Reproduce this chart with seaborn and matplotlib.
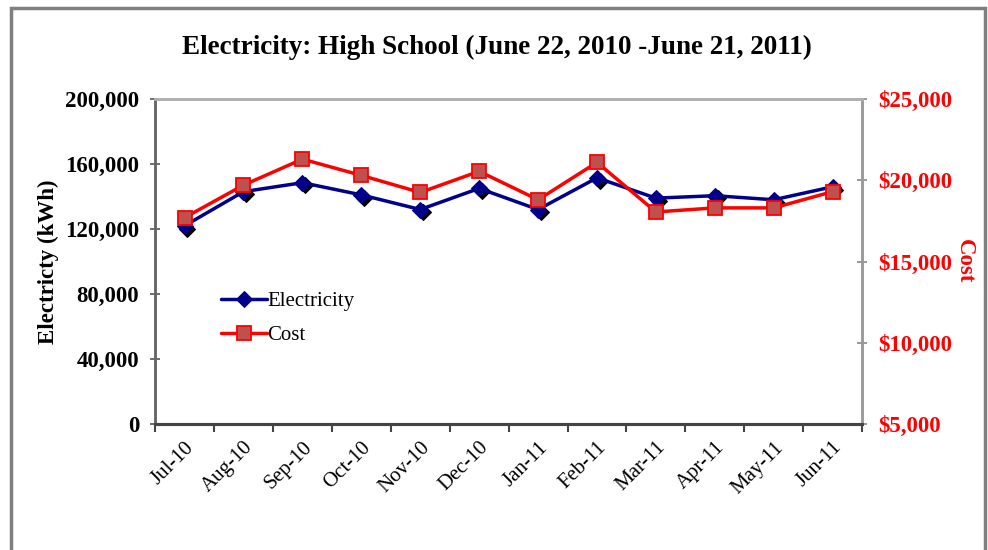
import numpy as np
import pandas as pd
import matplotlib
matplotlib.use('Agg')
import matplotlib.pyplot as plt
import matplotlib.ticker as mticker
from matplotlib.transforms import ScaledTranslation
from matplotlib.patches import Rectangle
import seaborn as sns

# Data
months = ['Jul-10', 'Aug-10', 'Sep-10', 'Oct-10', 'Nov-10', 'Dec-10',
          'Jan-11', 'Feb-11', 'Mar-11', 'Apr-11', 'May-11', 'Jun-11']
electricity = [122000, 143000, 148500, 141000, 132000, 145000,
               132000, 151500, 139000, 140500, 138000, 146000]
cost = [17700, 19700, 21300, 20300, 19250, 20550,
        18800, 21100, 18050, 18300, 18300, 19300]

df = pd.DataFrame({'month': months, 'electricity': electricity, 'cost': cost})
df['pos'] = np.arange(len(df))

sns.set_style('white')
plt.rcParams['font.family'] = ['Liberation Serif', 'DejaVu Serif']
plt.rcParams['text.color'] = 'black'
plt.rcParams['axes.labelcolor'] = 'black'
plt.rcParams['xtick.color'] = 'black'
plt.rcParams['ytick.color'] = 'black'

fig = plt.figure(figsize=(9.88, 5.5), dpi=100)
ax = fig.add_axes([0.157, 0.229, 0.7156, 0.591])
ax2 = ax.twinx()

# Outer chart border
fig.patches.append(Rectangle((0.011, -0.05), 0.986, 1.035, transform=fig.transFigure,
                             fill=False, edgecolor='#7f7f7f', linewidth=2.5))

# Black "shadow" of the diamond markers, drawn first and nudged down-right
sns.lineplot(data=df, x='pos', y='electricity', ax=ax, color='black', linestyle='',
             marker='D', markersize=8, markeredgecolor='black', legend=False, sort=False)
ax.lines[-1].set_transform(ax.transData + ScaledTranslation(2 / 72, -2 / 72, fig.dpi_scale_trans))

sns.lineplot(data=df, x='pos', y='electricity', ax=ax, color='#00008B', linewidth=2.5,
             marker='D', markersize=8, markerfacecolor='#00008B', markeredgecolor='#00008B',
             legend=False, sort=False)
sns.lineplot(data=df, x='pos', y='cost', ax=ax2, color='#FF0000', linewidth=2.5,
             marker='s', markersize=10, markerfacecolor='#C0504D', markeredgecolor='#FF0000',
             markeredgewidth=1.3, legend=False, sort=False)

# Left axis
ax.set_ylim(0, 200000)
ax.set_yticks(np.arange(0, 200001, 40000))
ax.yaxis.set_major_formatter(mticker.StrMethodFormatter('{x:,.0f}'))
ax.set_ylabel('Electricty (kWh)', fontsize=16.5, fontweight='bold', labelpad=4)
for t in ax.get_yticklabels():
    t.set_fontweight('bold')
    t.set_fontsize(16.5)
ax.tick_params(axis='y', left=True, direction='inout', length=7, width=1.2, color='#555555',
               labelcolor='black', pad=8)

# Right axis
ax2.set_ylim(5000, 25000)
ax2.set_yticks(np.arange(5000, 25001, 5000))
ax2.yaxis.set_major_formatter(mticker.StrMethodFormatter('${x:,.0f}'))
ax2.set_ylabel('Cost', fontsize=16.5, fontweight='bold', color='#FF0000', rotation=270, labelpad=16)
for t in ax2.get_yticklabels():
    t.set_fontweight('bold')
    t.set_fontsize(16.5)
    t.set_color('#FF0000')
ax2.tick_params(axis='y', right=True, direction='inout', length=7, width=1.2, color='#888888', pad=8)

# X axis: ticks between categories, labels at centers
ax.set_xlim(-0.5, len(months) - 0.5)
ax.set_xticks(np.arange(-0.5, len(months), 1.0))
ax.set_xticklabels([])
ax.set_xticks(df['pos'], minor=True)
ax.set_xticklabels(months, minor=True, rotation=45, ha='right', rotation_mode='anchor',
                   fontsize=15, color='black')
ax.tick_params(axis='x', which='major', bottom=True, direction='out', length=6, width=1.5, color='#444444')
ax.tick_params(axis='x', which='minor', bottom=False, length=0, pad=10)
ax.set_xlabel('')
ax2.set_xlabel('')

# Spines
for a in (ax, ax2):
    a.spines['top'].set_color('#b0b0b0')
    a.spines['top'].set_linewidth(2)
    a.spines['left'].set_color('#666666')
    a.spines['left'].set_linewidth(1.8)
    a.spines['right'].set_color('#999999')
    a.spines['right'].set_linewidth(1.8)
    a.spines['bottom'].set_color('#444444')
    a.spines['bottom'].set_linewidth(2.2)

# Legend
handles = [ax.lines[1], ax2.lines[0]]
leg = ax.legend(handles, ['Electricity', 'Cost'], loc='upper left', bbox_to_anchor=(0.067, 0.465),
                frameon=False, fontsize=15, handlelength=2.2, handletextpad=0.0, labelspacing=0.7)
for t in leg.get_texts():
    t.set_color('black')

fig.suptitle('Electricity: High School (June 22, 2010 -June 21, 2011)', x=0.503, y=0.913,
             va='center', fontsize=19.5, fontweight='bold', color='black')

fig.savefig('out.png', dpi=100)
